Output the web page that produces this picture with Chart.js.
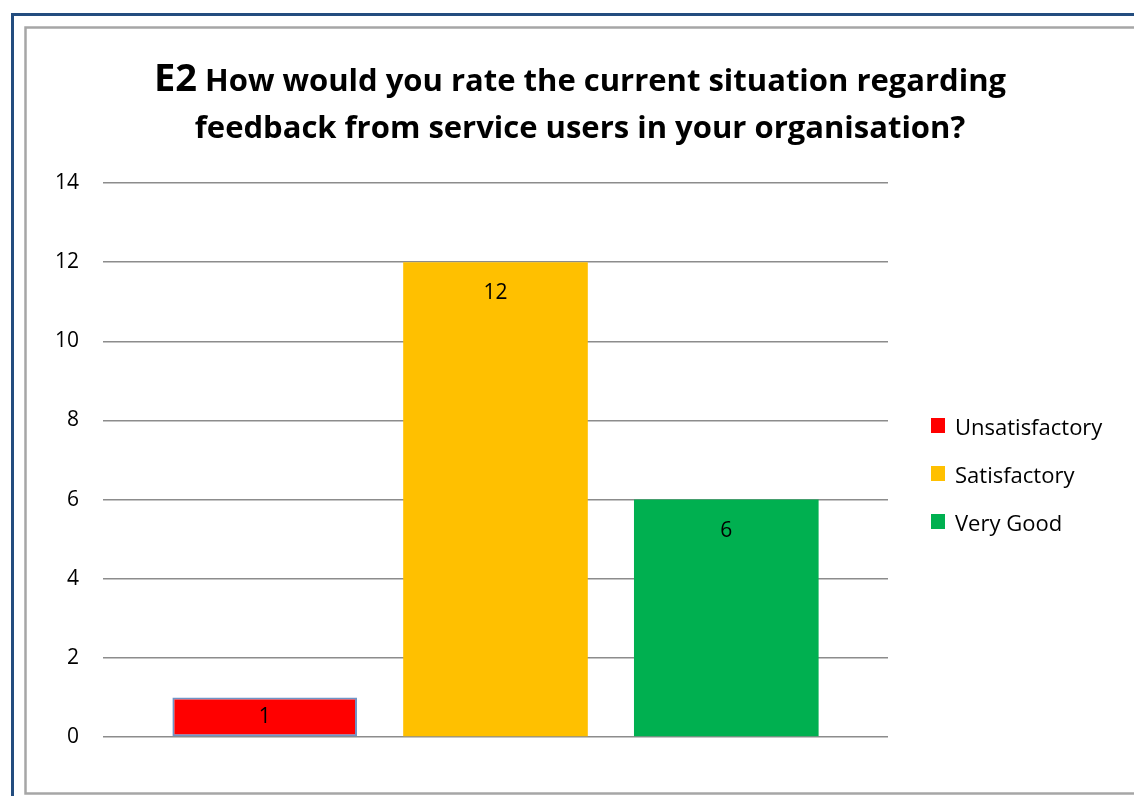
<!DOCTYPE html>
<html>
<head>
<meta charset="utf-8">
<title>E2 feedback rating</title>
<script src="https://cdn.jsdelivr.net/npm/chart.js@4.4.1/dist/chart.umd.min.js"></script>
<style>
  html, body { margin: 0; padding: 0; background: #ffffff; }
  #wrap { position: relative; width: 1134px; height: 796px; }
</style>
</head>
<body>
<div id="wrap"><canvas id="feedbackChart"></canvas></div>
<script>
var ratings = ["Unsatisfactory", "Satisfactory", "Very Good"];
var counts = [1, 12, 6];
var y_ticks = [0, 2, 4, 6, 8, 10, 12, 14];

var title_code = "E2";
var title_lines = [
  "How would you rate the current situation regarding",
  "feedback from service users in your organisation?",
];

var bar_colors = ["#ff0000", "#ffc000", "#00b050"];
var bar_borders = ["#7094c6", "#ffc000", "#00b050"];

var FONT = "'Open Sans', Lato, sans-serif";

// frame: dark blue outer border and grey chart border
var framePlugin = {
  id: "frame",
  beforeDraw: function (chart) {
    var c = chart.ctx;
    c.save();
    c.fillStyle = "#ffffff";
    c.fillRect(0, 0, chart.width, chart.height);
    c.strokeStyle = "#234d7f";
    c.lineWidth = 3;
    c.strokeRect(12.5, 14.5, chart.width + 20, chart.height + 20);
    c.strokeStyle = "#a6a6a6";
    c.lineWidth = 2.5;
    c.strokeRect(25.5, 27.5, chart.width + 20, 766);
    c.restore();
  },
};

// two line title, "E2" set larger than the question
var titlePlugin = {
  id: "bigTitle",
  afterDraw: function (chart) {
    var c = chart.ctx;
    var cx = 580;
    c.save();
    c.fillStyle = "#000000";
    c.textBaseline = "alphabetic";
    c.textAlign = "left";
    c.font = "bold 38px " + FONT;
    var wCode = c.measureText(title_code).width;
    c.font = "bold 31px " + FONT;
    var rest = " " + title_lines[0];
    var wRest = c.measureText(rest).width;
    var x0 = cx - (wCode + wRest) / 2;
    c.font = "bold 38px " + FONT;
    c.fillText(title_code, x0, 91);
    c.font = "bold 31px " + FONT;
    c.fillText(rest, x0 + wCode, 91);
    c.textAlign = "center";
    c.fillText(title_lines[1], cx, 138);
    c.restore();
  },
};

// value labels inside the top of each bar
var valueLabels = {
  id: "valueLabels",
  afterDatasetsDraw: function (chart) {
    var c = chart.ctx;
    c.save();
    c.font = "21px " + FONT;
    c.fillStyle = "#000000";
    c.textAlign = "center";
    c.textBaseline = "middle";
    chart.data.datasets.forEach(function (ds, i) {
      var meta = chart.getDatasetMeta(i);
      meta.data.forEach(function (bar, j) {
        var y = Math.min(bar.y + 31, (bar.y + bar.base) / 2);
        c.fillText(String(ds.data[j]), bar.x, y);
      });
    });
    c.restore();
  },
};

// legend to the right of the plot
var sideLegend = {
  id: "sideLegend",
  afterDraw: function (chart) {
    var c = chart.ctx;
    c.save();
    c.font = "22px " + FONT;
    c.textAlign = "left";
    c.textBaseline = "alphabetic";
    chart.data.datasets.forEach(function (ds, i) {
      var base = 435 + i * 48;
      c.fillStyle = ds.backgroundColor;
      c.fillRect(931, base - 17, 14, 15);
      c.fillStyle = "#000000";
      c.fillText(ds.label, 955, base);
    });
    c.restore();
  },
};

const ctx = document.getElementById("feedbackChart");

const feedbackChart = new Chart(ctx, {
  type: "bar",
  data: {
    labels: [""],
    datasets: ratings.map(function (name, i) {
      return {
        label: name,
        data: [counts[i]],
        backgroundColor: bar_colors[i],
        borderColor: bar_borders[i],
        borderWidth: i === 0 ? 2 : 0,
        borderSkipped: false,
        categoryPercentage: 0.882,
        barPercentage: 0.8,
      };
    }),
  },
  options: {
    responsive: true,
    maintainAspectRatio: false,
    animation: false,
    layout: {
      padding: { top: 183, bottom: 59, left: 0, right: 246 },
    },
    plugins: {
      legend: { display: false },
      title: { display: false },
      tooltip: { enabled: false },
    },
    scales: {
      x: {
        display: false,
      },
      y: {
        min: y_ticks[0],
        max: y_ticks[y_ticks.length - 1],
        afterFit: function (scale) {
          scale.width = 103;
        },
        ticks: {
          stepSize: y_ticks[1] - y_ticks[0],
          padding: 24,
          color: "#000000",
          font: { family: FONT, size: 21 },
        },
        grid: {
          color: "#8c8c8c",
          lineWidth: 1.5,
          drawTicks: false,
        },
        border: { display: false },
      },
    },
  },
  plugins: [framePlugin, titlePlugin, valueLabels, sideLegend],
});
</script>
</body>
</html>
